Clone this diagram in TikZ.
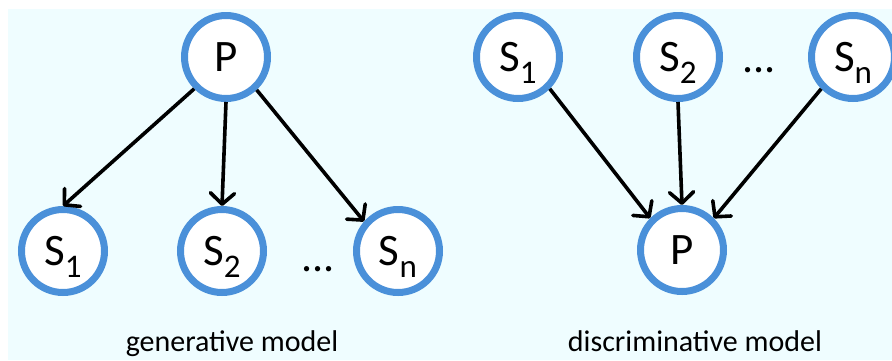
\documentclass[tikz,border=0pt]{standalone}
\usepackage{fontspec}
\setmainfont{Carlito}
\usetikzlibrary{arrows.meta}
\definecolor{ringblue}{RGB}{74,144,217}
\definecolor{bgcyan}{RGB}{239,253,255}
\newcommand{\lowsub}[1]{\smash{\raisebox{-12pt}{\fontsize{33}{33}\selectfont #1}}}
\begin{document}
\begin{tikzpicture}[x=1pt,y=-1pt,
  var/.style={circle,draw=ringblue,line width=7pt,fill=white,minimum size=83pt,inner sep=0pt,font=\fontsize{45}{45}\selectfont},
  edge/.style={line width=3.6pt,-{Straight Barb[length=11pt,width=24pt,round]}},
  caption/.style={font=\fontsize{30}{30}\selectfont,anchor=base},
  dotsnode/.style={font=\fontsize{44}{44}\selectfont,anchor=base}]
\useasboundingbox (0,0) rectangle (892,360);
\clip (0,0) rectangle (892,360);
\fill[bgcyan] (8,9) rectangle (892,360);
% generative model
\node[var] (gp) at (226,57) {P};
\node[var] (gs1) at (63,251) {S\lowsub{1}};
\node[var] (gs2) at (222,251) {S\lowsub{2}};
\node[var] (gsn) at (398,251) {S\lowsub{n}};
\node[dotsnode] (gdots) at (318,271) {...};
\draw[edge] (gp.225) -- (gs1.north);
\draw[edge] (gp.south) -- (gs2.north);
\draw[edge] (gp.313) -- (gsn.139);
\node[caption] (gcap) at (232,351) {generative model};
% discriminative model
\node[var] (ds1) at (518,57) {S\lowsub{1}};
\node[var] (ds2) at (678,57) {S\lowsub{2}};
\node[var] (dsn) at (853,57) {S\lowsub{n}};
\node[dotsnode] (ddots) at (759,72) {...};
\node[var] (dp) at (682,250) {P};
\draw[edge] (ds1.315) -- (dp.135);
\draw[edge] (ds2.south) -- (dp.north);
\draw[edge] (dsn.225) -- (dp.45);
\node[caption] (dcap) at (695,351) {discriminative model};
\end{tikzpicture}
\end{document}
